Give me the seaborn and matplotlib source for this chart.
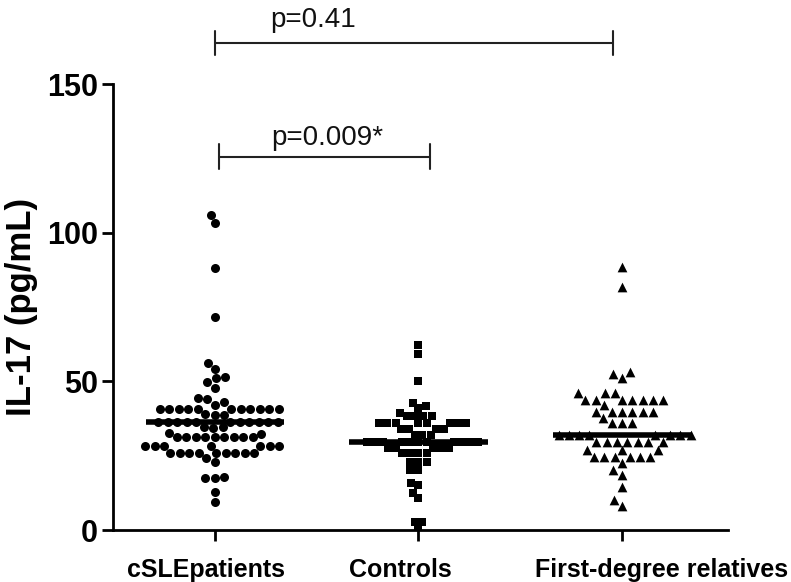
import numpy as np
import pandas as pd
import seaborn as sns
import matplotlib.pyplot as plt
from matplotlib.transforms import ScaledTranslation

groups = ['cSLEpatients', 'Controls', 'First-degree relatives']
markers = ['o', 's', '^']
marker_sizes = [6.5, 5.6, 7.0]

cSLE = [106.0, 103.2, 88.0, 71.5, 56.3, 54.1, 51.6, 51.0, 49.7, 47.9, 44.3, 44.0, 43.2, 42.1,
        40.6, 40.6, 40.6, 40.6, 40.6, 40.6, 40.6, 40.6, 40.6, 40.6, 40.6,
        38.9, 38.7, 38.7,
        36.4, 36.4, 36.4, 36.4, 36.4, 36.4, 36.4, 36.4, 36.4, 36.4, 36.4,
        34.8, 34.5, 34.2, 32.6, 32.4,
        31.2, 31.2, 31.2, 31.2, 31.2, 31.2, 31.2, 31.2, 31.2,
        28.4, 28.4, 28.4, 28.4, 28.4, 28.4, 28.4,
        26.0, 26.0, 26.0, 26.0, 26.0, 26.0, 26.0, 26.0, 26.0,
        24.2, 23.0, 17.6, 17.6, 17.8, 12.9, 9.5]

controls = [62.2, 59.2, 50.2, 42.8, 41.7, 40.9, 39.5,
            38.3, 38.3, 38.3, 38.3,
            35.9, 35.9, 35.9, 35.9, 35.9, 35.9, 35.9, 35.9,
            33.9, 33.9, 33.9, 33.9, 32.0, 32.0, 32.0,
            29.7, 29.7, 29.7, 29.7, 29.7, 29.7, 29.7, 29.7, 29.7, 29.7, 29.7,
            27.5, 27.5, 27.5, 27.5, 27.5,
            25.8, 25.8, 25.8, 25.8, 23.0, 23.0, 23.0, 20.2, 20.2,
            15.7, 15.1, 12.6, 10.7, 2.8, 2.8, 0.5]

relatives = [88.3, 81.9, 53.0, 52.5, 51.0,
             46.0, 46.0, 46.0,
             43.7, 43.7, 43.7, 43.7, 43.7, 43.7, 43.7, 42.0,
             39.8, 39.8, 39.8, 39.8, 39.8, 39.8, 37.6,
             35.9, 35.9, 35.9,
             32.0, 32.0, 32.0, 32.0, 32.0, 32.0, 32.0, 32.0,
             29.7, 29.7, 29.7, 29.7, 29.7, 29.7, 29.7,
             26.9, 26.9, 26.9,
             24.7, 24.7, 24.7, 24.7, 24.7, 24.7,
             22.5, 20.2, 18.5, 14.4, 10.1, 8.1]

# horizontal line per group
centre_lines = [36.4, 29.7, 32.0]

p_labels = ['p=0.009*', 'p=0.41']
bracket_heights = [125.5, 163.8]

df = pd.DataFrame({
    'group': [groups[0]] * len(cSLE) + [groups[1]] * len(controls) + [groups[2]] * len(relatives),
    'value': cSLE + controls + relatives,
})

sns.set_style('ticks')
plt.rcParams['font.family'] = ['Liberation Sans', 'DejaVu Sans']
plt.rcParams.update({'text.color': 'black', 'axes.labelcolor': 'black', 'axes.edgecolor': 'black',
                     'xtick.color': 'black', 'ytick.color': 'black'})

fig = plt.figure(figsize=(7.91, 5.82), dpi=100)
ax = fig.add_axes([0.1429, 0.0893, 0.7775, 0.7663])

for g, m, ms in zip(groups, markers, marker_sizes):
    sns.swarmplot(data=df[df['group'] == g], x='group', y='value', order=groups,
                  marker=m, color='black', size=ms, ax=ax, zorder=3)

pos = np.arange(len(groups))
ax.hlines(centre_lines, pos - 0.34, pos + 0.34, color='black', lw=4, zorder=5)

# significance brackets
brackets = [(0.02, 1.056), (0.0, 1.956)]
text_x = [0.55, 0.484]
text_y = [129.5, 169.2]
for (x0, x1), h, lab, tx, ty in zip(brackets, bracket_heights, p_labels, text_x, text_y):
    ax.plot([x0, x1], [h, h], color='#222222', lw=1.5, clip_on=False)
    ax.plot([x0, x0], [h - 4.2, h + 4.2], color='#222222', lw=1.5, clip_on=False)
    ax.plot([x1, x1], [h - 4.2, h + 4.2], color='#222222', lw=1.5, clip_on=False)
    ax.text(tx, ty, lab, ha='center', va='baseline', fontsize=20, color='#111111')

ax.set_xlim(-0.5, 2.52)
ax.set_ylim(0, 150)
ax.set_yticks([0, 50, 100, 150])
ax.set_xlabel('')
ax.set_ylabel('IL-17 (pg/mL)', fontsize=25, fontweight='bold', labelpad=6)
sns.despine(ax=ax)
for s in ['left', 'bottom']:
    ax.spines[s].set_linewidth(2)
ax.tick_params(axis='both', width=2, length=8, color='black')
ax.tick_params(axis='y', labelsize=22, pad=3)
ax.tick_params(axis='x', labelsize=18, pad=12)
for lab in ax.get_xticklabels() + ax.get_yticklabels():
    lab.set_fontweight('bold')

# the category labels sit a little off their ticks in the original
for lab, dx in zip(ax.get_xticklabels(), [-9, -18, 39]):
    lab.set_transform(lab.get_transform() + ScaledTranslation(dx / 100, 0, fig.dpi_scale_trans))

fig.savefig('out.png', dpi=100)
